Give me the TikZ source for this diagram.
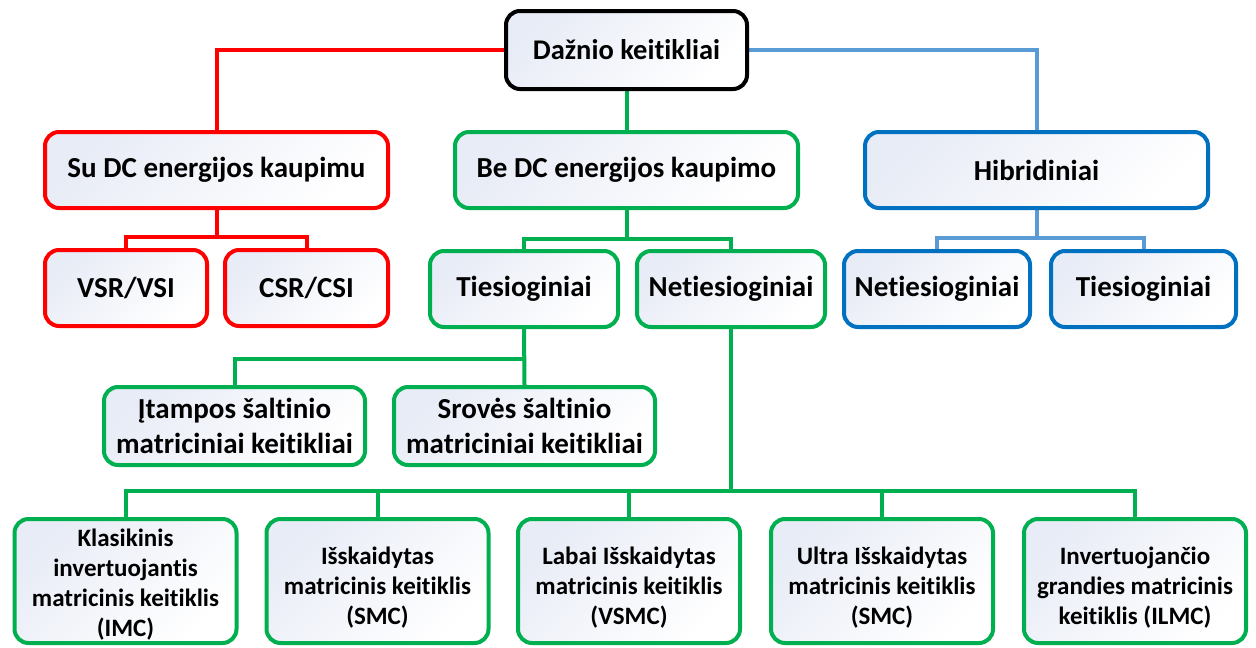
\documentclass[tikz,border=0pt]{standalone}
\usepackage{fontspec}
\setmainfont{Carlito}[Ligatures=NoCommon]
\usetikzlibrary{backgrounds}
\definecolor{cred}{HTML}{FF0000}
\definecolor{cgreen}{HTML}{00B050}
\definecolor{cblue}{HTML}{0070C0}
\definecolor{clblue}{HTML}{5B9BD5}
\definecolor{cfill}{HTML}{E8ECF6}
\newcommand\toppad[1][30pt]{\rule{0pt}{#1}}
\begin{document}
\begin{tikzpicture}[x=1pt,y=-1pt,
  box/.style={draw, rounded corners=14pt, line width=4pt, top color=cfill, bottom color=white, shading angle=45,
    align=center, inner sep=0pt, text=black, font=\bfseries\fontsize{29}{35}\selectfont},
  bigbox/.style={box, font=\bfseries\fontsize{28.5}{34}\selectfont},
  smallbox/.style={box, font=\bfseries\fontsize{25}{30}\selectfont, minimum width=222pt, minimum height=124pt},
  redbox/.style={box, draw=cred},
  greenbox/.style={box, draw=cgreen},
  bluebox/.style={box, draw=cblue},
  conn/.style={line width=4pt},
  redline/.style={conn, draw=cred},
  greenline/.style={conn, draw=cgreen},
  blueline/.style={conn, draw=clblue}]
\useasboundingbox (0,0) rectangle (1256,648);
% level 0
\node[bigbox, draw=black, minimum width=241pt, minimum height=78pt] (top) at (626.5,50) {Dažnio keitikliai};
% level 1
\node[redbox, minimum width=343pt, minimum height=76pt] (sudc) at (216.5,170) {Su DC energijos kaupimu};
\node[greenbox, minimum width=343pt, minimum height=76pt] (bedc) at (626.5,170) {Be DC energijos kaupimo};
\node[bluebox, minimum width=343pt, minimum height=76pt] (hib) at (1036.5,170) {Hibridiniai};
% level 2
\node[redbox, minimum width=162pt, minimum height=76pt] (vsr) at (126,288) {VSR/VSI};
\node[redbox, minimum width=163pt, minimum height=76pt] (csr) at (306.5,288) {CSR/CSI};
\node[greenbox, minimum width=188pt, minimum height=76pt] (tg) at (524,289) {Tiesioginiai};
\node[greenbox, minimum width=188pt, minimum height=76pt] (ng) at (731,289) {Netiesioginiai};
\node[bluebox, minimum width=186pt, minimum height=76pt] (nb) at (937,289) {Netiesioginiai};
\node[bluebox, minimum width=185pt, minimum height=76pt] (tb) at (1143.5,289) {Tiesioginiai};
% level 3
\node[greenbox, minimum width=261pt, minimum height=78pt] (it) at (234.5,426) {Įtampos šaltinio\\matriciniai keitikliai};
\node[greenbox, minimum width=261pt, minimum height=78pt] (sr) at (524.5,426) {Srovės šaltinio\\matriciniai keitikliai};
% level 4
\node[smallbox, draw=cgreen] (b1) at (125.5,581) {\toppad[24pt]Klasikinis\\invertuojantis\\matricinis keitiklis\\(IMC)};
\node[smallbox, draw=cgreen] (b2) at (377.5,581) {\toppad Išskaidytas\\matricinis keitiklis\\(SMC)};
\node[smallbox, draw=cgreen] (b3) at (629,581) {\toppad Labai Išskaidytas\\matricinis keitiklis\\(VSMC)};
\node[smallbox, draw=cgreen] (b4) at (882,581) {\toppad Ultra Išskaidytas\\matricinis keitiklis\\(SMC)};
\node[smallbox, draw=cgreen] (b5) at (1135,581) {\toppad Invertuojančio\\grandies matricinis\\keitiklis (ILMC)};
\begin{scope}[on background layer]
  \draw[redline] (top.west) -| (sudc.north);
  \draw[blueline] (top.east) -| (hib.north);
  \draw[greenline] (top.south) -- (bedc.north);
  \draw[redline] (sudc.south) -- ++(0,27) coordinate (rj) -| (vsr.north);
  \draw[redline] (rj) -| (csr.north);
  \draw[greenline] (bedc.south) -- ++(0,29) coordinate (gj) -| (tg.north);
  \draw[greenline] (gj) -| (ng.north);
  \draw[blueline] (hib.south) -- ++(0,28) coordinate (bj) -| (nb.north);
  \draw[blueline] (bj) -| (tb.north);
  \draw[greenline] (tg.south) -- (sr.north);
  \draw[greenline] (tg.south) ++(0,30) coordinate (tj) -| (it.north);
  \draw[greenline] (ng.south) -- ++(0,162) coordinate (nj) -| (b1.north);
  \draw[greenline] (nj) -| (b2.north);
  \draw[greenline] (nj) -| (b3.north);
  \draw[greenline] (nj) -| (b4.north);
  \draw[greenline] (nj) -| (b5.north);
\end{scope}
\end{tikzpicture}
\end{document}
